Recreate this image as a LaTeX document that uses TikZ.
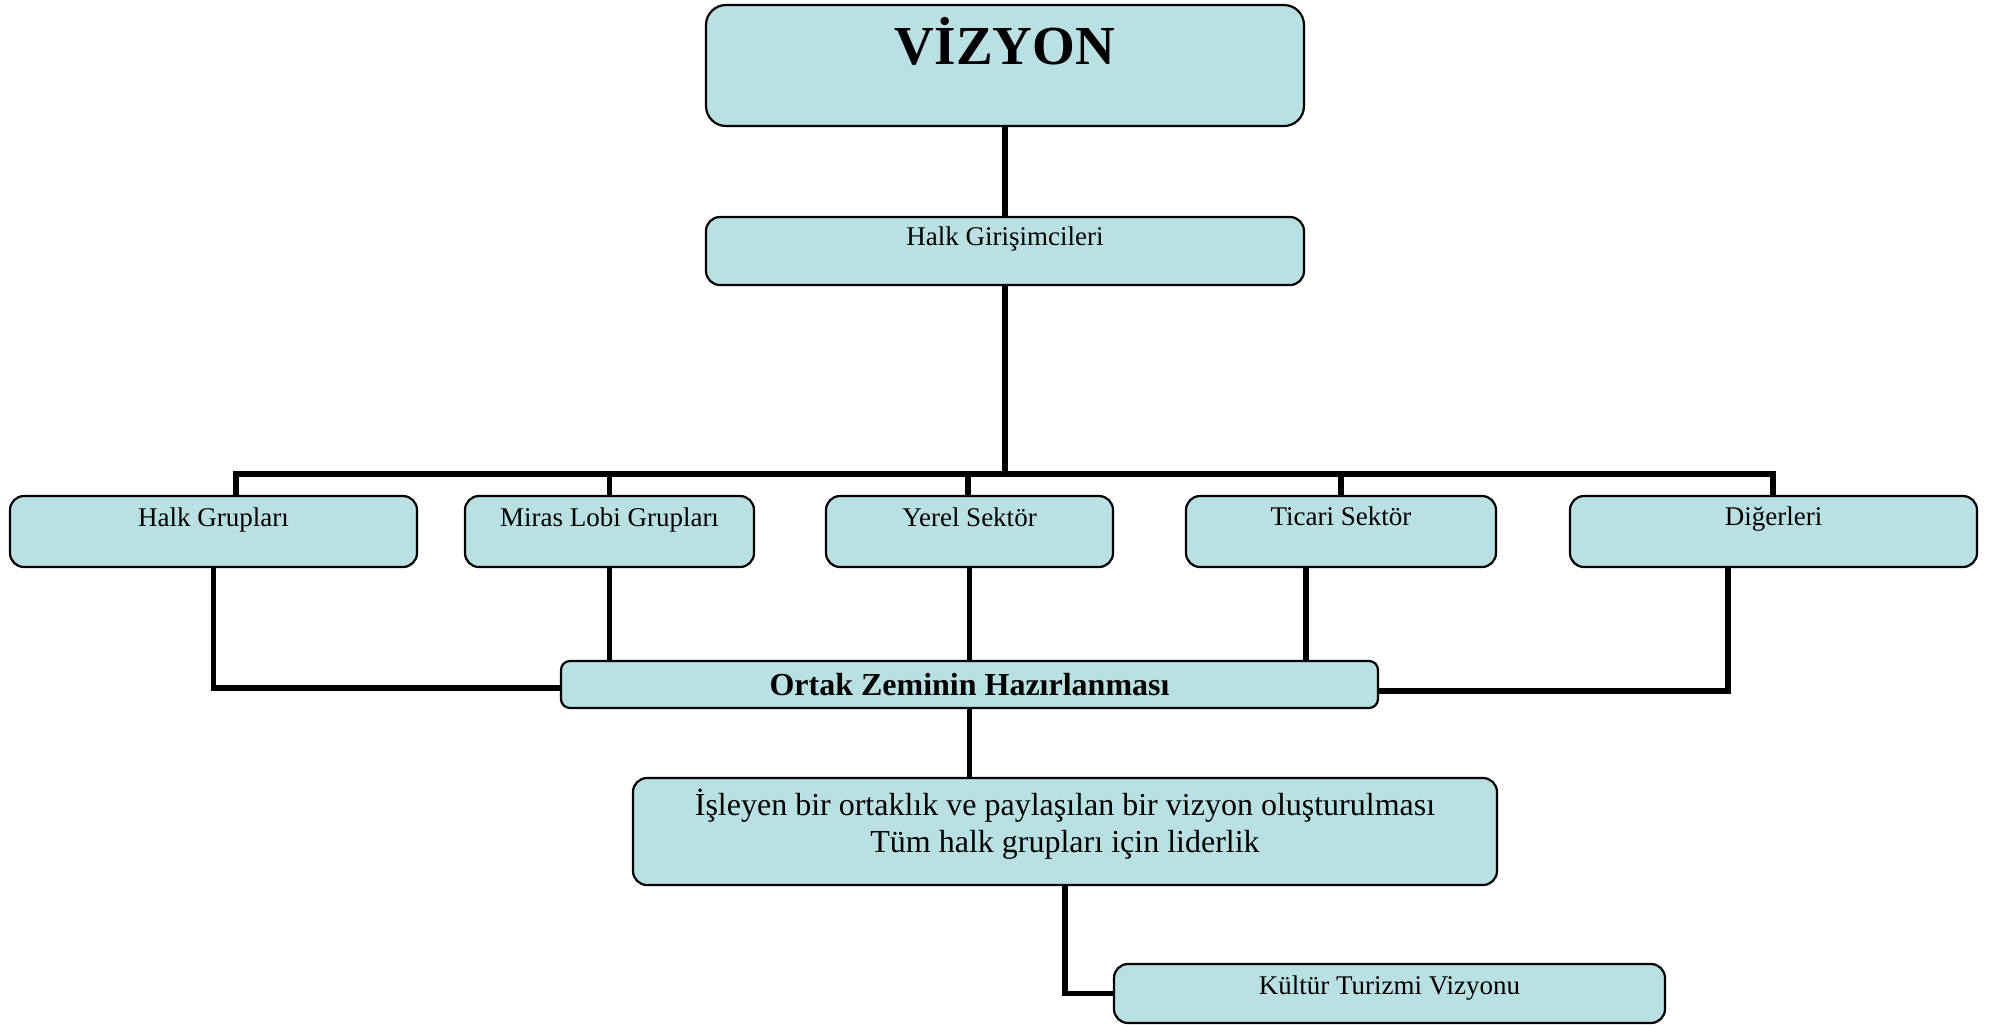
\documentclass[tikz,border=0pt]{standalone}
\usepackage{fontspec}
\setmainfont{Liberation Serif}
\usetikzlibrary{calc,backgrounds}
\definecolor{boxfill}{RGB}{185,224,227}
\begin{document}
\begin{tikzpicture}[x=0.5pt,y=-0.5pt,
  box/.style={draw=black, line width=1.1pt, fill=boxfill, rounded corners=7pt,
              inner sep=0pt, outer sep=0pt},
  conn/.style={draw=black, line width=2.6pt, line join=miter, line cap=rect},
  lbl/.style={anchor=base, inner sep=0pt, font=\fontsize{13.5}{16}\selectfont},
  biglbl/.style={anchor=base, inner sep=0pt, font=\fontsize{16}{19}\selectfont}
]
\useasboundingbox (0,0) rectangle (2010,1025);

% boxes
\node[box, rounded corners=10pt, minimum width=299pt, minimum height=60.5pt] (vizyon) at (1005,65.5) {};
\node[box, minimum width=299pt, minimum height=34pt] (halkgir) at (1005,251) {};
\node[box, minimum width=203.5pt, minimum height=35.5pt] (halkgrup) at (213.5,531.5) {};
\node[box, minimum width=144.5pt, minimum height=35.5pt] (miras) at (609.5,531.5) {};
\node[box, minimum width=143.5pt, minimum height=35.5pt] (yerel) at (969.5,531.5) {};
\node[box, minimum width=155pt, minimum height=35.5pt] (ticari) at (1341,531.5) {};
\node[box, minimum width=203.5pt, minimum height=35.5pt] (diger) at (1773.5,531.5) {};
\node[box, rounded corners=4.5pt, minimum width=408.5pt, minimum height=23.5pt] (ortak) at (969.5,684.5) {};
\node[box, minimum width=432pt, minimum height=53.5pt] (isleyen) at (1065,831.5) {};
\node[box, minimum width=275.5pt, minimum height=29.5pt] (kultur) at (1389.5,993.5) {};

% labels
\node[anchor=base, inner sep=0pt, font=\bfseries\fontsize{27.5}{32}\selectfont] (tvizyon) at ($(vizyon.north)+(0,59)$) {VİZYON};
\node[lbl] (thalkgir) at ($(halkgir.north)+(0,28)$) {Halk Girişimcileri};
\node[lbl] (thalkgrup) at ($(halkgrup.north)+(0,30)$) {Halk Grupları};
\node[lbl] (tmiras) at ($(miras.north)+(0,30)$) {Miras Lobi Grupları};
\node[lbl] (tyerel) at ($(yerel.north)+(0,30)$) {Yerel Sektör};
\node[lbl] (tticari) at ($(ticari.north)+(0,29)$) {Ticari Sektör};
\node[lbl] (tdiger) at ($(diger.north)+(0,29)$) {Diğerleri};
\node[anchor=base, inner sep=0pt, font=\bfseries\fontsize{16}{19}\selectfont] (tortak) at ($(ortak.north)+(0,34)$) {Ortak Zeminin Hazırlanması};
\node[biglbl] (tisleyen1) at ($(isleyen.north)+(0,37)$) {İşleyen bir ortaklık ve paylaşılan bir vizyon oluşturulması};
\node[biglbl] (tisleyen2) at ($(isleyen.north)+(0,74)$) {Tüm halk grupları için liderlik};
\node[lbl] (tkultur) at ($(kultur.north)+(0,30)$) {Kültür Turizmi Vizyonu};

% connectors, drawn beneath the boxes
\coordinate (busL) at (236,474);
\coordinate (busR) at (1773,474);
\begin{scope}[on background layer]
  \fill[white] (0,0) rectangle (2010,1025);
  \draw[conn] (vizyon.south) -- (halkgir.north);
  \draw[conn] (halkgir.south) -- (halkgir.south |- busL);
  \draw[conn] (busL |- halkgrup.north) -- (busL) -- (busR) -- (busR |- diger.north);
  \draw[conn] (miras.north) -- (miras.north |- busL);
  \draw[conn] ([xshift=-0.75pt]yerel.north) -- ([xshift=-0.75pt]yerel.north |- busL);
  \draw[conn] (ticari.north) -- (ticari.north |- busL);

  \draw[conn] (halkgrup.south) |- ([yshift=-1.75pt]ortak.west);
  \draw[conn] (miras.south) -- (miras.south |- ortak.north);
  \draw[conn] (yerel.south) -- (yerel.south |- ortak.north);
  \draw[conn] ([xshift=-17.5pt]ticari.south) -- ([xshift=-17.5pt]ticari.south |- ortak.north);
  \draw[conn] ([xshift=-22.75pt]diger.south) |- ([yshift=-3.25pt]ortak.east);

  \draw[conn] (ortak.south) -- (ortak.south |- isleyen.north);
  \draw[conn] (isleyen.south) |- (kultur.west);
\end{scope}
\end{tikzpicture}
\end{document}
